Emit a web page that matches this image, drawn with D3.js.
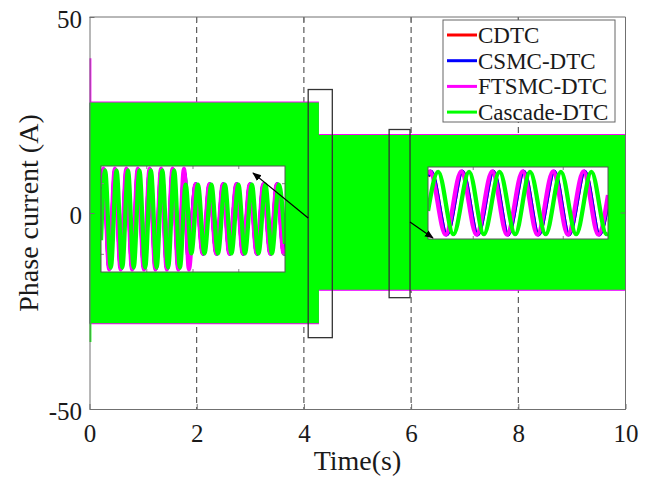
<!DOCTYPE html>
<html><head><meta charset="utf-8">
<script src="https://cdn.jsdelivr.net/npm/d3@7"></script>
<style>
body{margin:0;background:#fff}
text{font-family:"Liberation Serif","Times New Roman",serif;fill:#1a1a1a}
</style>
</head><body><svg id="chart" width="652" height="481"></svg>
<script>
// ---------- data ----------
const seriesNames = ["CDTC", "CSMC-DTC", "FTSMC-DTC", "Cascade-DTC"];
const seriesColors = ["#ff0000", "#0000ff", "#ff00ff", "#00ff00"];
const xTicks = [0, 2, 4, 6, 8, 10];
const yTicks = [-50, 0, 50];
const gridTimes = [2, 4, 6, 8];

// envelope of the fast phase-current oscillation (held after each time)
const envTime = [0, 0.035, 4.28, 10];
const cdtcUpper = [28.0, 28.0, 19.8, 19.8];
const cdtcLower = [-28.1, -28.1, -19.6, -19.6];
const csmcUpper = [28.1, 28.1, 19.9, 19.9];
const csmcLower = [-28.2, -28.2, -19.7, -19.7];
const ftsmcUpper = [39.5, 28.45, 20.15, 20.15];
const ftsmcLower = [-28.4, -28.4, -19.85, -19.85];
const cascadeUpper = [28.2, 28.2, 19.9, 19.9];
const cascadeLower = [-32.9, -28.1, -19.6, -19.6];

// zoom windows [t0, t1, vMin, vMax]
const zoom1Box = [4.08, 4.53, -31.8, 31.5];
const zoom2Box = [5.59, 5.98, -21.6, 21.3];
const zoom1Range = [-30, 30];
const zoom2Range = [-22.5, 22.5];
const zoom1Ticks = [4.192, 4.305, 4.417];
const zoom1YTicks = [-20, 20];
const zoom2Ticks = [5.688, 5.883];

// zoom 1: extrema of the waveforms [time, current]
const zoom1CDTC = [[4.080,16],[4.087,27.8],[4.101,-27.8],[4.115,27.8],[4.129,-27.8],[4.143,27.8],[4.157,-27.8],[4.171,27.8],[4.186,-27.8],[4.200,27.8],[4.214,-27.8],[4.228,27.8],[4.242,-27.8],[4.256,27.8],[4.270,-27.8],[4.284,25],[4.294,-21],[4.312,19.5],[4.330,-19.5],[4.346,19.5],[4.363,-19.5],[4.379,19.5],[4.395,-19.5],[4.412,19.5],[4.428,-19.5],[4.445,19.5],[4.462,-19.5],[4.478,19.5],[4.495,-19.5],[4.511,19.5],[4.528,-19.5],[4.530,-19]];
const zoom1CSMC = [[4.080,17],[4.087,28],[4.101,-28],[4.115,28],[4.129,-28],[4.143,28],[4.157,-28],[4.171,28],[4.186,-28],[4.200,28],[4.214,-28],[4.228,28],[4.242,-28],[4.256,28],[4.270,-28],[4.284,26],[4.294,-22],[4.312,19.6],[4.330,-19.6],[4.346,19.6],[4.363,-19.6],[4.379,19.6],[4.395,-19.6],[4.412,19.6],[4.428,-19.6],[4.445,19.6],[4.462,-19.6],[4.478,19.6],[4.495,-19.6],[4.511,19.6],[4.528,-19.6],[4.530,-19]];
const zoom1FTSMC = [[4.080,18],[4.086,28.5],[4.100,-28.5],[4.114,28.5],[4.128,-28.5],[4.142,28.5],[4.156,-28.5],[4.170,28.5],[4.185,-28.5],[4.199,28.5],[4.213,-28.5],[4.227,28.5],[4.241,-28.5],[4.255,28.5],[4.269,-28.5],[4.283,28.5],[4.295,-28.5],[4.311,19.6],[4.329,-19.6],[4.345,19.6],[4.362,-19.6],[4.378,19.6],[4.394,-19.6],[4.411,19.6],[4.427,-19.6],[4.444,19.6],[4.461,-19.6],[4.477,19.6],[4.494,-19.6],[4.510,19.6],[4.527,-19.6],[4.530,-18]];
const zoom1Cascade = [[4.080,-12],[4.090,27.5],[4.104,-27.5],[4.118,27.5],[4.132,-27.5],[4.146,27.5],[4.160,-27.5],[4.174,27.5],[4.188,-27.5],[4.202,27.5],[4.216,-27.5],[4.230,27.5],[4.244,-27.5],[4.259,27.5],[4.273,-27.5],[4.287,19.5],[4.301,-19.5],[4.317,19.5],[4.333,-19.5],[4.350,19.5],[4.366,-19.5],[4.383,19.5],[4.399,-19.5],[4.416,19.5],[4.432,-19.5],[4.449,19.5],[4.465,-19.5],[4.482,19.5],[4.498,-19.5],[4.515,19.5],[4.530,-14]];

// zoom 2: extrema of the waveforms [time, current]
const zoom2CDTC = [[5.590,16.5],[5.596,19.5],[5.630,-19.5],[5.664,19.5],[5.697,-19.5],[5.731,19.5],[5.763,-19.5],[5.797,19.5],[5.829,-19.5],[5.863,19.5],[5.895,-19.5],[5.929,19.5],[5.961,-19.5],[5.980,1.5]];
const zoom2CSMC = [[5.590,17],[5.596,19.6],[5.630,-19.6],[5.664,19.6],[5.697,-19.6],[5.731,19.6],[5.763,-19.6],[5.797,19.6],[5.829,-19.6],[5.863,19.6],[5.895,-19.6],[5.929,19.6],[5.961,-19.6],[5.980,2]];
const zoom2FTSMC = [[5.590,18],[5.594,19.8],[5.628,-19.8],[5.662,19.8],[5.695,-19.8],[5.729,19.8],[5.761,-19.8],[5.795,19.8],[5.827,-19.8],[5.861,19.8],[5.893,-19.8],[5.927,19.8],[5.959,-19.8],[5.980,5]];
const zoom2Cascade = [[5.590,-5],[5.612,19.5],[5.645,-19.5],[5.679,19.5],[5.711,-19.5],[5.745,19.5],[5.779,-19.5],[5.811,19.5],[5.845,-19.5],[5.878,19.5],[5.911,-19.5],[5.944,19.5],[5.977,-19.5],[5.980,-19.3]];

// ---------- drawing ----------
const svg = d3.select("#chart");
const axisColor = "#707070";
const x = d3.scaleLinear().domain([0, 10]).range([89.5, 625.5]);
const y = d3.scaleLinear().domain([-50, 50]).range([409, 17]);

// grid (dashed vertical)
svg.append("g").selectAll("line").data(gridTimes).join("line")
  .attr("x1", d => x(d)).attr("x2", d => x(d))
  .attr("y1", y(50)).attr("y2", y(-50))
  .attr("stroke", "#222").attr("stroke-width", 0.9).attr("stroke-dasharray", "6,4");

// envelopes
const envSets = [
  [cdtcUpper, cdtcLower], [csmcUpper, csmcLower],
  [ftsmcUpper, ftsmcLower], [cascadeUpper, cascadeLower]
];
const area = d3.area().curve(d3.curveStepAfter)
  .x(d => x(d.t)).y0(d => y(d.lo)).y1(d => y(d.hi));
envSets.forEach((s, i) => {
  const pts = envTime.map((t, k) => ({t, hi: s[0][k], lo: s[1][k]}));
  svg.append("path").datum(pts).attr("d", area)
    .attr("fill", seriesColors[i]).attr("stroke", "none");
});

// axes box
const gx = svg.append("g").attr("transform", `translate(0,${y(-50)})`)
  .call(d3.axisBottom(x).tickValues(xTicks).tickSizeInner(-5).tickSizeOuter(0).tickPadding(15).tickFormat(d3.format("d")));
const gy = svg.append("g").attr("transform", `translate(${x(0)},0)`)
  .call(d3.axisLeft(y).tickValues(yTicks).tickSizeInner(-5).tickSizeOuter(0).tickPadding(7.5).tickFormat(d => d < 0 ? "-" + Math.abs(d) : d));
[gx, gy].forEach(g => {
  g.select(".domain").attr("stroke", axisColor);
  g.selectAll(".tick line").attr("stroke", axisColor);
  g.selectAll("text").attr("font-size", 25).attr("font-family", "Liberation Serif").attr("fill", "#1a1a1a");
});
gy.selectAll("text").attr("dy", "0.42em");
svg.append("line").attr("x1", x(0)).attr("x2", x(10)).attr("y1", y(50)).attr("y2", y(50)).attr("stroke", axisColor);
svg.append("line").attr("x1", x(10)).attr("x2", x(10)).attr("y1", y(50)).attr("y2", y(-50)).attr("stroke", axisColor);
svg.append("g").selectAll("line").data(xTicks.slice(1, -1)).join("line")
  .attr("x1", d => x(d)).attr("x2", d => x(d)).attr("y1", y(50)).attr("y2", y(50) + 5).attr("stroke", axisColor);
svg.append("g").selectAll("line").data(yTicks.slice(1, -1)).join("line")
  .attr("x1", x(10)).attr("x2", x(10) - 5).attr("y1", d => y(d)).attr("y2", d => y(d)).attr("stroke", axisColor);

// axis labels
svg.append("text").attr("x", (x(0) + x(10)) / 2).attr("y", 470)
  .attr("text-anchor", "middle").attr("font-size", 28).text("Time(s)");
svg.append("text").attr("transform", `translate(38,${(y(50) + y(-50)) / 2}) rotate(-90)`)
  .attr("text-anchor", "middle").attr("font-size", 28).text("Phase current (A)");

// zoom rectangles
[zoom1Box, zoom2Box].forEach(b => {
  svg.append("rect").attr("x", x(b[0])).attr("y", y(b[3]))
    .attr("width", x(b[1]) - x(b[0])).attr("height", y(b[2]) - y(b[3]))
    .attr("fill", "none").attr("stroke", "#333").attr("stroke-width", 1.3);
});

// insets
function drawInset(id, px, py, pw, ph, box, range, ticks, yticks, seriesList) {
  const sx = d3.scaleLinear().domain([box[0], box[1]]).range([px, px + pw]);
  const sy = d3.scaleLinear().domain(range).range([py + ph, py]);
  svg.append("rect").attr("x", px).attr("y", py).attr("width", pw).attr("height", ph).attr("fill", "#fff");
  svg.append("clipPath").attr("id", id).append("rect")
    .attr("x", px).attr("y", py).attr("width", pw).attr("height", ph);
  const g = svg.append("g").attr("clip-path", `url(#${id})`);
  const line = d3.line().curve(d3.curveMonotoneX).x(d => sx(d[0])).y(d => sy(d[1]));
  seriesList.forEach((s, i) => {
    g.append("path").datum(s).attr("d", line).attr("fill", "none")
      .attr("stroke", seriesColors[i]).attr("stroke-width", 4.3).attr("stroke-linejoin", "round");
  });
  const tg = svg.append("g");
  ticks.forEach(t => {
    tg.append("line").attr("x1", sx(t)).attr("x2", sx(t)).attr("y1", py).attr("y2", py + 3).attr("stroke", "#888");
    tg.append("line").attr("x1", sx(t)).attr("x2", sx(t)).attr("y1", py + ph).attr("y2", py + ph - 3).attr("stroke", "#888");
  });
  yticks.forEach(v => {
    tg.append("line").attr("x1", px).attr("x2", px + 3).attr("y1", sy(v)).attr("y2", sy(v)).attr("stroke", "#888");
    tg.append("line").attr("x1", px + pw).attr("x2", px + pw - 3).attr("y1", sy(v)).attr("y2", sy(v)).attr("stroke", "#888");
  });
  svg.append("rect").attr("x", px).attr("y", py).attr("width", pw).attr("height", ph)
    .attr("fill", "none").attr("stroke", "#555").attr("stroke-width", 1);
}
drawInset("clip1", 101, 166, 184, 106, zoom1Box, zoom1Range, zoom1Ticks, zoom1YTicks,
  [zoom1CDTC, zoom1CSMC, zoom1FTSMC, zoom1Cascade]);
drawInset("clip2", 428, 167, 180, 72, zoom2Box, zoom2Range, zoom2Ticks, [],
  [zoom2CDTC, zoom2CSMC, zoom2FTSMC, zoom2Cascade]);

// arrows
svg.append("defs").append("marker").attr("id", "arr")
  .attr("viewBox", "0 0 10 10").attr("refX", 9).attr("refY", 5)
  .attr("markerWidth", 9).attr("markerHeight", 9).attr("orient", "auto")
  .attr("markerUnits", "userSpaceOnUse")
  .append("path").attr("d", "M0,1 L10,5 L0,9 Z").attr("fill", "#000");
svg.append("line").attr("x1", x(zoom1Box[0])).attr("y1", 218).attr("x2", 253).attr("y2", 173)
  .attr("stroke", "#000").attr("stroke-width", 1.2).attr("marker-end", "url(#arr)");
svg.append("line").attr("x1", x(zoom2Box[1])).attr("y1", 222).attr("x2", 433).attr("y2", 238)
  .attr("stroke", "#000").attr("stroke-width", 1.2).attr("marker-end", "url(#arr)");

// legend
const lg = svg.append("g");
lg.append("rect").attr("x", 443).attr("y", 20).attr("width", 172).attr("height", 102)
  .attr("fill", "#fff").attr("stroke", "#666").attr("stroke-width", 1);
seriesNames.forEach((n, i) => {
  const by = 43 + i * 25.7;
  lg.append("line").attr("x1", 447).attr("x2", 477).attr("y1", by - 8).attr("y2", by - 8)
    .attr("stroke", seriesColors[i]).attr("stroke-width", 3);
  lg.append("text").attr("x", 478).attr("y", by).attr("font-size", 23).text(n);
});
</script>
</body></html>
